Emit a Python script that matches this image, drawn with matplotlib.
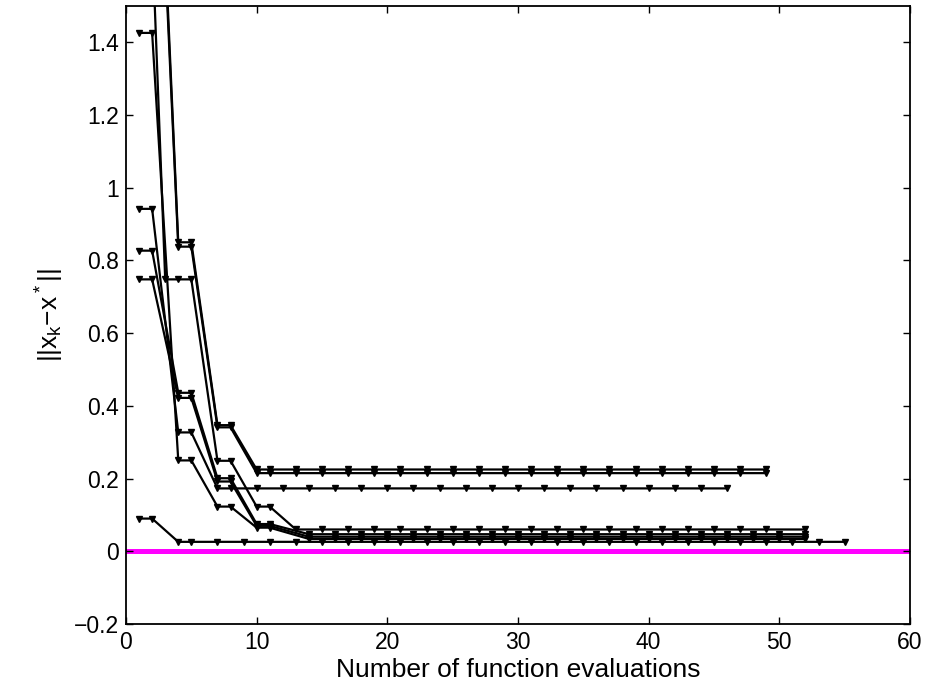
import matplotlib
matplotlib.use("Agg")
import matplotlib.pyplot as plt

plt.rcParams["font.family"] = ["Liberation Sans", "DejaVu Sans"]
plt.rcParams["mathtext.fontset"] = "custom"
plt.rcParams["mathtext.rm"] = "Liberation Sans"
plt.rcParams["mathtext.it"] = "Liberation Sans"

# evaluation counts and error norms for each run
run_a_x = [1, 2, 4, 5, 7, 8, 10, 11, 13, 15, 17, 19, 21, 23, 25, 27, 29, 31, 33, 35,
           37, 39, 41, 43, 45, 47, 49]
run_a_y = [2.47, 2.47, 0.850, 0.850, 0.347, 0.347, 0.225, 0.225, 0.225, 0.225, 0.225,
           0.225, 0.225, 0.225, 0.225, 0.225, 0.225, 0.225, 0.225, 0.225, 0.225, 0.225,
           0.225, 0.225, 0.225, 0.225, 0.225]

run_b_x = [1, 2, 4, 5, 7, 8, 10, 11, 13, 15, 17, 19, 21, 23, 25, 27, 29, 31, 33, 35,
           37, 39, 41, 43, 45, 47, 49]
run_b_y = [2.42, 2.42, 0.838, 0.838, 0.341, 0.341, 0.215, 0.215, 0.215, 0.215, 0.215,
           0.215, 0.215, 0.215, 0.215, 0.215, 0.215, 0.215, 0.215, 0.215, 0.215, 0.215,
           0.215, 0.215, 0.215, 0.215, 0.215]

run_c_x = [1, 2, 4, 5, 7, 8, 10, 12, 14, 16, 18, 20, 22, 24, 26, 28, 30, 32, 34, 36,
           38, 40, 42, 44, 46]
run_c_y = [0.942, 0.942, 0.327, 0.327, 0.173, 0.173, 0.173, 0.173, 0.173, 0.173, 0.173,
           0.173, 0.173, 0.173, 0.173, 0.173, 0.173, 0.173, 0.173, 0.173, 0.173, 0.173,
           0.173, 0.173, 0.173]

run_d_x = [1, 2, 3, 4, 5, 7, 8, 10, 11, 13, 15, 17, 19, 21, 23, 25, 27, 29, 31, 33,
           35, 37, 39, 41, 43, 45, 47, 49, 52]
run_d_y = [1.69, 1.69, 0.748, 0.748, 0.748, 0.249, 0.249, 0.123, 0.123, 0.060, 0.060,
           0.060, 0.060, 0.060, 0.060, 0.060, 0.060, 0.060, 0.060, 0.060, 0.060, 0.060,
           0.060, 0.060, 0.060, 0.060, 0.060, 0.060, 0.060]

run_e_x = [1, 2, 4, 5, 7, 8, 10, 11, 14, 16, 18, 20, 22, 24, 26, 28, 30, 32, 34, 36,
           38, 40, 42, 44, 46, 48, 50, 52]
run_e_y = [1.426, 1.426, 0.250, 0.250, 0.123, 0.123, 0.065, 0.065, 0.034, 0.034, 0.034,
           0.034, 0.034, 0.034, 0.034, 0.034, 0.034, 0.034, 0.034, 0.034, 0.034, 0.034,
           0.034, 0.034, 0.034, 0.034, 0.034, 0.034]

run_f_x = [1, 2, 4, 5, 7, 8, 10, 11, 14, 16, 18, 20, 22, 24, 26, 28, 30, 32, 34, 36,
           38, 40, 42, 44, 46, 48, 50, 52]
run_f_y = [0.827, 0.827, 0.436, 0.436, 0.201, 0.201, 0.075, 0.075, 0.047, 0.047, 0.047,
           0.047, 0.047, 0.047, 0.047, 0.047, 0.047, 0.047, 0.047, 0.047, 0.047, 0.047,
           0.047, 0.047, 0.047, 0.047, 0.047, 0.047]

run_g_x = [1, 2, 4, 5, 7, 8, 10, 11, 14, 16, 18, 20, 22, 24, 26, 28, 30, 32, 34, 36,
           38, 40, 42, 44, 46, 48, 50, 52]
run_g_y = [0.748, 0.748, 0.422, 0.422, 0.192, 0.192, 0.070, 0.070, 0.040, 0.040, 0.040,
           0.040, 0.040, 0.040, 0.040, 0.040, 0.040, 0.040, 0.040, 0.040, 0.040, 0.040,
           0.040, 0.040, 0.040, 0.040, 0.040, 0.040]

run_h_x = [1, 2, 4, 5, 7, 9, 11, 13, 15, 17, 19, 21, 23, 25, 27, 29, 31, 33, 35, 37,
           39, 41, 43, 45, 47, 49, 51, 53, 55]
run_h_y = [0.090, 0.090, 0.026, 0.026, 0.026, 0.026, 0.026, 0.026, 0.026, 0.026, 0.026,
           0.026, 0.026, 0.026, 0.026, 0.026, 0.026, 0.026, 0.026, 0.026, 0.026, 0.026,
           0.026, 0.026, 0.026, 0.026, 0.026, 0.026, 0.026]

runs = [
    (run_a_x, run_a_y), (run_b_x, run_b_y), (run_c_x, run_c_y), (run_d_x, run_d_y),
    (run_e_x, run_e_y), (run_f_x, run_f_y), (run_g_x, run_g_y), (run_h_x, run_h_y),
]

x_ticks = [0, 10, 20, 30, 40, 50, 60]
y_ticks = [-0.2, 0, 0.2, 0.4, 0.6, 0.8, 1, 1.2, 1.4]
y_tick_labels = ["\u22120.2", "0", "0.2", "0.4", "0.6", "0.8", "1", "1.2", "1.4"]

fig = plt.figure(figsize=(9.25, 6.93), dpi=100)
ax = fig.add_axes([126 / 925, 69 / 693, 784 / 925, 618 / 693])

ax.axhline(0, color="#ff00ff", lw=3.6, zorder=1)
for xs, ys in runs:
    ax.plot(xs, ys, color="black", lw=1.6, marker="v", markersize=4.5,
            markerfacecolor="black", markeredgecolor="black", zorder=2)

ax.set_xlim(0, 60)
ax.set_ylim(-0.2, 1.5)
ax.set_xticks(x_ticks)
ax.set_yticks(y_ticks)
ax.set_yticklabels(y_tick_labels)
ax.tick_params(direction="in", length=5, width=1, labelsize=16.5, top=True, right=True,
               pad=5)
for side in ax.spines.values():
    side.set_linewidth(1.3)

ax.set_xlabel("Number of function evaluations", fontsize=19, labelpad=3)
ax.set_ylabel(r"$||x_k\mathregular{-}x^*||$", fontsize=19, labelpad=6)

fig.savefig("out.png", dpi=100, facecolor="white")
